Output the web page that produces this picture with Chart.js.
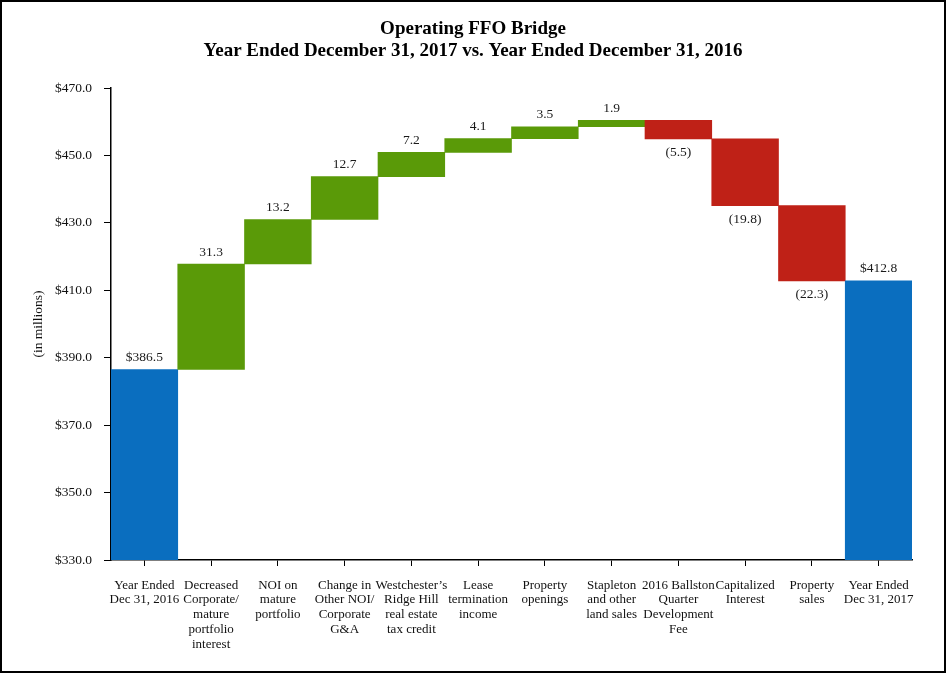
<!DOCTYPE html>
<html>
<head>
<meta charset="utf-8">
<script src="https://cdn.jsdelivr.net/npm/chart.js@4/dist/chart.umd.min.js"></script>
<style>
  body { margin: 0; background: #fff; }
  canvas { display: block; }
</style>
</head>
<body>
<canvas id="bridge" width="946" height="673"></canvas>
<script>
// ===== Data =====
const titleLines = ["Operating FFO Bridge", "Year Ended December 31, 2017 vs. Year Ended December 31, 2016"];
const categories = [
  ["Year Ended", "Dec 31, 2016"],
  ["Decreased", "Corporate/", "mature", "portfolio", "interest"],
  ["NOI on", "mature", "portfolio"],
  ["Change in", "Other NOI/", "Corporate", "G&A"],
  ["Westchester\u2019s", "Ridge Hill", "real estate", "tax credit"],
  ["Lease", "termination", "income"],
  ["Property", "openings"],
  ["Stapleton", "and other", "land sales"],
  ["2016 Ballston", "Quarter", "Development", "Fee"],
  ["Capitalized", "Interest"],
  ["Property", "sales"],
  ["Year Ended", "Dec 31, 2017"]
];
const values = [386.5, 31.3, 13.2, 12.7, 7.2, 4.1, 3.5, 1.9, -5.5, -19.8, -22.3, 412.8];
const kinds = ["total", "delta", "delta", "delta", "delta", "delta", "delta", "delta", "delta", "delta", "delta", "total"];
const yMin = 330, yMax = 470, yStep = 20;

const BLUE = "#0A6EBF", GREEN = "#5A9A08", RED = "#BF2117";
const SERIF = "'Liberation Serif', 'Times New Roman', serif";

// ===== Build floating bars =====
let running = 0;
const ranges = [];
const colors = [];
values.forEach((v, i) => {
  if (kinds[i] === "total") {
    ranges.push([yMin, v]);
    running = v;
    colors.push(BLUE);
  } else {
    ranges.push([running, running + v]);
    running = running + v;
    colors.push(v >= 0 ? GREEN : RED);
  }
});

function labelFor(i) {
  const v = values[i];
  if (kinds[i] === "total") return "$" + v.toFixed(1);
  return v < 0 ? "(" + Math.abs(v).toFixed(1) + ")" : v.toFixed(1);
}

// ===== Plugins =====
// white page, black frame and the two centred title lines
const frame = {
  id: "frame",
  beforeDraw(chart) {
    const ctx = chart.ctx;
    ctx.save();
    ctx.fillStyle = "#fff";
    ctx.fillRect(0, 0, chart.width, chart.height);
    ctx.restore();
  },
  afterDraw(chart) {
    const ctx = chart.ctx;
    ctx.save();
    ctx.fillStyle = "#000";
    ctx.font = "bold 19px " + SERIF;
    ctx.textAlign = "center";
    ctx.textBaseline = "middle";
    ctx.fillText(titleLines[0], chart.width / 2, 29);
    ctx.fillText(titleLines[1], chart.width / 2, 51);
    ctx.strokeStyle = "#000";
    ctx.lineWidth = 2;
    ctx.strokeRect(1, 1, chart.width - 2, chart.height - 2);
    ctx.restore();
  }
};

const barLabels = {
  id: "barLabels",
  afterDatasetsDraw(chart) {
    const ctx = chart.ctx;
    const meta = chart.getDatasetMeta(0);
    ctx.save();
    ctx.font = "13.5px " + SERIF;
    ctx.fillStyle = "#1a1a1a";
    ctx.textAlign = "center";
    ctx.textBaseline = "middle";
    meta.data.forEach((bar, i) => {
      const top = Math.min(bar.y, bar.base);
      const bottom = Math.max(bar.y, bar.base);
      if (kinds[i] === "delta" && values[i] < 0) {
        ctx.fillText(labelFor(i), bar.x, bottom + 14);
      } else {
        ctx.fillText(labelFor(i), bar.x, top - 12);
      }
    });
    ctx.restore();
  }
};

// ===== Chart =====
new Chart(document.getElementById("bridge"), {
  type: "bar",
  data: {
    labels: categories,
    datasets: [{
      data: ranges,
      backgroundColor: colors,
      borderWidth: 0,
      barPercentage: 1,
      categoryPercentage: 1
    }]
  },
  options: {
    responsive: false,
    devicePixelRatio: 1,
    animation: false,
    layout: { padding: { left: 0, right: 34, top: 88, bottom: 0 } },
    plugins: {
      legend: { display: false },
      tooltip: { enabled: false },
      title: { display: false }
    },
    scales: {
      x: {
        grid: { display: true, drawOnChartArea: false, offset: false, tickLength: 6, color: "#000" },
        border: { display: true, color: "#000", width: 1.5 },
        ticks: {
          color: "#111",
          font: { family: SERIF, size: 13, lineHeight: 1.13 },
          padding: 12,
          maxRotation: 0,
          autoSkip: false
        },
        afterFit(scale) { scale.height = 113; }
      },
      y: {
        min: yMin,
        max: yMax,
        grid: { display: true, drawOnChartArea: false, tickLength: 7, color: "#000" },
        border: { display: true, color: "#000", width: 1.5 },
        ticks: {
          stepSize: yStep,
          color: "#111",
          padding: 12,
          font: { family: SERIF, size: 13.5 },
          callback: v => "$" + Number(v).toFixed(1)
        },
        title: {
          display: true,
          text: "(in millions)",
          color: "#111",
          font: { family: SERIF, size: 13.5 },
          padding: { top: 30, bottom: 0 }
        },
        afterFit(scale) { scale.width = 111; }
      }
    }
  },
  plugins: [frame, barLabels]
});
</script>
</body>
</html>
